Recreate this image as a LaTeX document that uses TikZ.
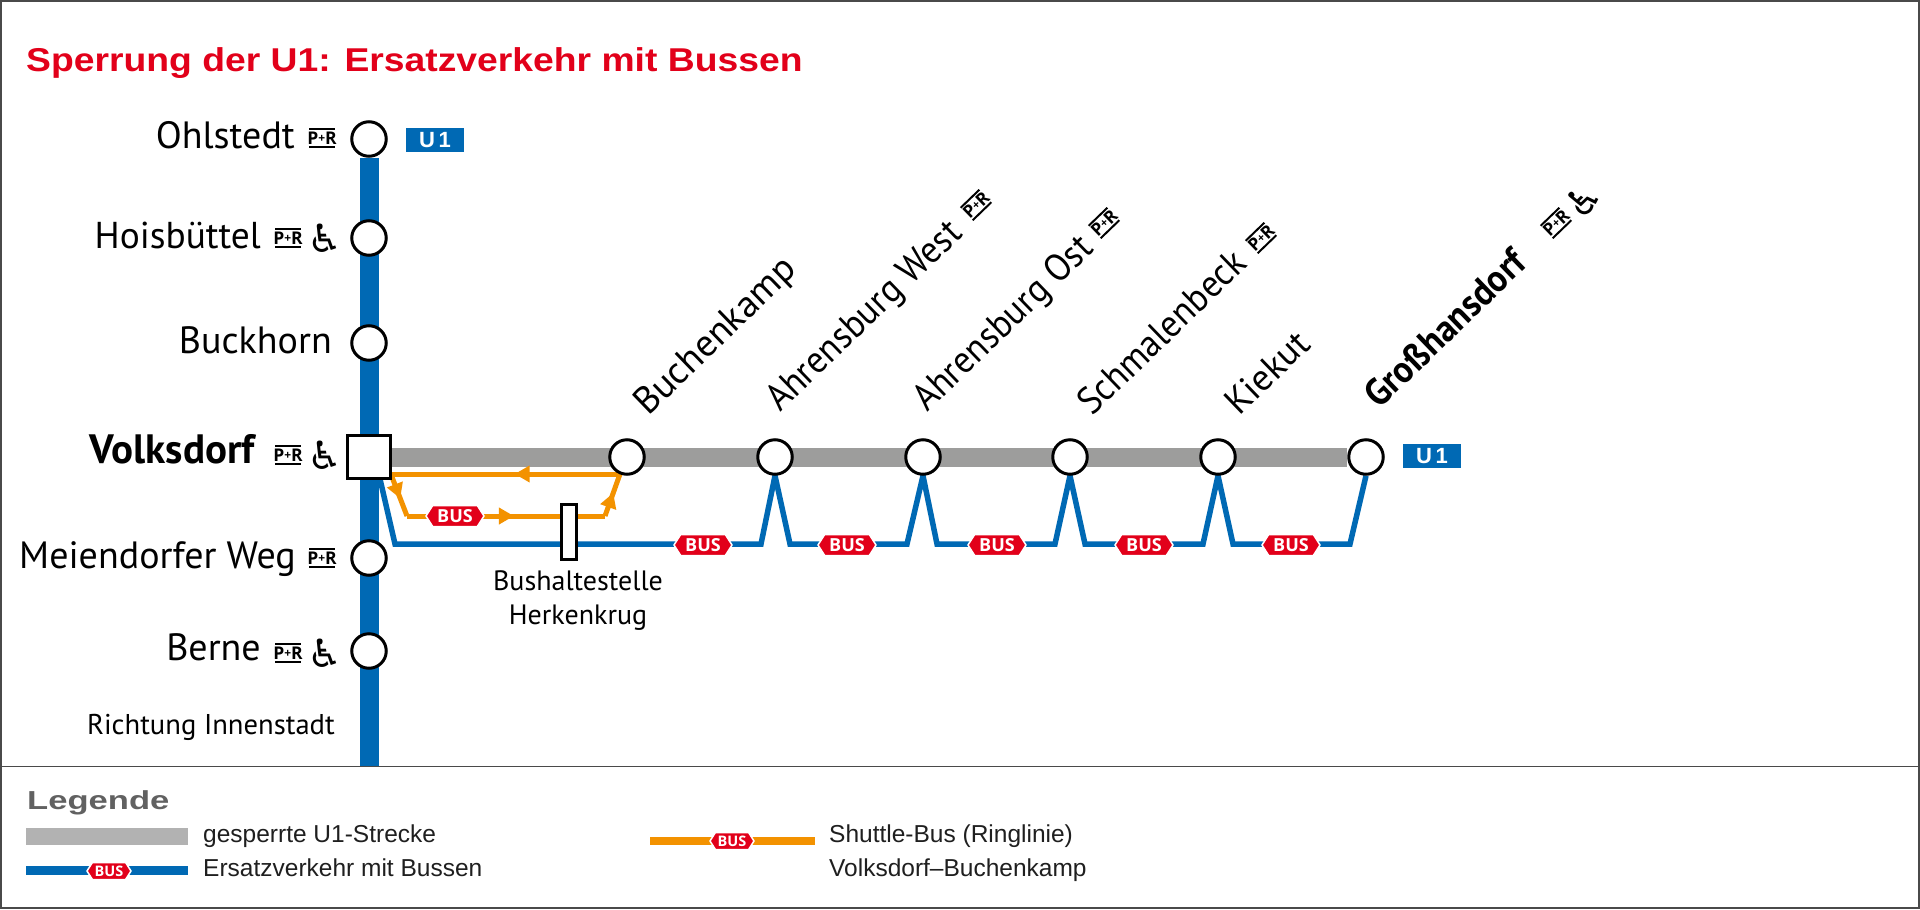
\documentclass[tikz,border=0pt]{standalone}
\usepackage{fontspec}
\setmainfont{PT Sans}
\newfontfamily\titlef[FakeStretch=1.13]{Liberation Sans}
\newfontfamily\legf[FakeStretch=1.33]{Liberation Sans}
\newfontfamily\helv{Liberation Sans}
\newfontfamily\dejav{DejaVu Sans}
\newfontfamily\busf{Open Sans}
\newfontfamily\anglef[FakeStretch=0.93]{PT Sans}
\usetikzlibrary{shapes.symbols,arrows.meta,decorations.markings,backgrounds}
\definecolor{ublue}{HTML}{0069B4}
\definecolor{ugray}{HTML}{9D9D9C}
\definecolor{lgray}{HTML}{B2B2B2}
\definecolor{sorange}{HTML}{F39200}
\definecolor{bred}{HTML}{E2001A}
\definecolor{framec}{HTML}{4A4A4A}
\newcommand{\PRsym}{\vbox{\offinterlineskip\hrule height 2pt width 26pt\kern1.4pt\hbox to 26pt{\hss\busf\bfseries\fontsize{17.5}{17.5}\selectfont P\raisebox{1.5pt}{\fontsize{12}{12}\selectfont +}R\hss}\kern1.4pt\hrule height 2pt width 26pt}}
\newcommand{\WCsym}{{\dejav\fontsize{39}{39}\selectfont ♿}}
\tikzset{
  station/.style={circle,draw=black,fill=white,line width=3pt,minimum size=34.5pt,inner sep=0pt},
  hub/.style={rectangle,draw=black,fill=white,line width=3pt,minimum size=43pt,inner sep=0pt},
  stopbar/.style={rectangle,draw=black,fill=white,line width=3pt,minimum width=15.5pt,minimum height=55pt,inner sep=0pt},
  stationlabel/.style={inner sep=0pt,anchor=base east,font=\fontsize{38}{38}\selectfont},
  anglelabel/.style={inner sep=0pt,anchor=base west,rotate=44,font=\anglef\fontsize{38}{38}\selectfont},
  sym/.style={inner sep=0pt,anchor=center},
  busbadge/.style={signal,signal to=east and west,signal pointer angle=115,draw=white,line width=1.5pt,fill=bred,text=white,inner sep=0pt,minimum width=58pt,minimum height=21pt,font=\busf\bfseries\fontsize{18}{18}\selectfont},
  smallbadge/.style={busbadge,minimum width=44pt,minimum height=17pt,font=\busf\bfseries\fontsize{14.5}{14.5}\selectfont},
  ulabel/.style={rectangle,fill=ublue,text=white,inner sep=0pt,minimum width=58pt,minimum height=24pt,font=\helv\bfseries\fontsize{22}{22}\selectfont},
  closed/.style={draw=ugray,line width=19pt},
  uline/.style={draw=ublue,line width=19pt},
  busline/.style={draw=ublue,line width=5.5pt,miter limit=10},
  shuttle/.style={draw=sorange,line width=5pt},
  midarrow/.style={postaction={decorate,decoration={markings,mark=at position #1 with {\arrow{Triangle[length=15pt,width=16pt,fill=sorange,color=sorange]}}}}},
  legtext/.style={inner sep=0pt,anchor=base west,font=\helv\fontsize{24.5}{24.5}\selectfont,text=black!88},
}
\begin{document}
\begin{tikzpicture}[x=1pt,y=-1pt]
\useasboundingbox (0,0) rectangle (1920,910);
% stations on the vertical line
\node[station] (ohl) at (369,139) {};
\node[station] (hoi) at (369,238) {};
\node[station] (buc) at (369,343) {};
\node[hub] (vol) at (369,457) {};
\node[station] (mei) at (369,558) {};
\node[station] (ber) at (369,651) {};
\coordinate (lineend) at (369,766);
% stations on the horizontal line
\node[station] (s1) at (627,457) {};
\node[station] (s2) at (775,457) {};
\node[station] (s3) at (923,457) {};
\node[station] (s4) at (1070,457) {};
\node[station] (s5) at (1218,457) {};
\node[station] (s6) at (1366,457) {};
% title
\node[inner sep=0pt,anchor=base west,text=bred,font=\titlef\bfseries\fontsize{33}{33}\selectfont] (title) at (26,71) {Sperrung der U1: Ersatzverkehr mit Bussen};
% labels
\node[stationlabel] (lohl) at (295,148) {Ohlstedt};
\node[sym] (prohl) at (322,138) {\PRsym};
\node[stationlabel,font=\fontsize{37.4}{37.4}\selectfont] (lhoi) at (261,248) {Hoisbüttel};
\node[sym] (prhoi) at (288,238) {\PRsym};
\node[sym] (whoi) at (325,238) {\WCsym};
\node[stationlabel] (lbuc) at (332,353) {Buckhorn};
\node[stationlabel,font=\bfseries\fontsize{41}{41}\selectfont] (lvol) at (255,463) {Volksdorf};
\node[sym] (prvol) at (288,455) {\PRsym};
\node[sym] (wvol) at (325,455) {\WCsym};
\node[stationlabel] (lmei) at (296,568) {Meiendorfer Weg};
\node[sym] (prmei) at (322,558) {\PRsym};
\node[stationlabel] (lber) at (261,660) {Berne};
\node[sym] (prber) at (288,653) {\PRsym};
\node[sym] (wber) at (325,653) {\WCsym};
\node[inner sep=0pt,anchor=base east,font=\fontsize{28.6}{28.6}\selectfont] (richt) at (335,734) {Richtung Innenstadt};
\node[ulabel] (u1a) at (435,140) {U\,1};
\node[ulabel] (u1b) at (1432,456) {U\,1};
% angled labels
\node[anglelabel,font=\fontsize{38}{38}\selectfont] (l1) at (648,417) {Buchenkamp};
\node[anglelabel] (l2) at (780,413) {Ahrensburg West};
\node[rotate=44,sym] (pr2) at (976,205) {\PRsym};
\node[anglelabel] (l3) at (927,413) {Ahrensburg Ost};
\node[rotate=44,sym] (pr3) at (1104,223) {\PRsym};
\node[anglelabel] (l4) at (1092,417) {Schmalenbeck};
\node[rotate=44,sym] (pr4) at (1261,238) {\PRsym};
\node[anglelabel,font=\fontsize{37}{37}\selectfont] (l5) at (1239,417) {Kiekut};
\node[anglelabel] (l6) at (1379,410) {\bfseries Großhansdorf};
\node[rotate=44,sym] (pr6) at (1556,223) {\PRsym};
\node[rotate=44,sym] (w6) at (1583,200) {\WCsym};
% shuttle stop
\node[stopbar] (stop) at (569,532) {};
\node[inner sep=0pt,align=center,font=\fontsize{28}{34}\selectfont,anchor=north] (stoplabel) at (578,570) {Bushaltestelle\\Herkenkrug};
% badges
\node[busbadge] (bo) at (455,516) {BUS};
\node[busbadge] (b1) at (703,545) {BUS};
\node[busbadge] (b2) at (847,545) {BUS};
\node[busbadge] (b3) at (997,545) {BUS};
\node[busbadge] (b4) at (1144,545) {BUS};
\node[busbadge] (b5) at (1291,545) {BUS};
% bend points
\coordinate (va) at (380,479);
\coordinate (vb) at (395,544);
\coordinate (a2) at (761,544);
\coordinate (b2r) at (790,544);
\coordinate (a3) at (907,544);
\coordinate (b3r) at (937,544);
\coordinate (a4) at (1055,544);
\coordinate (b4r) at (1085,544);
\coordinate (a5) at (1203,544);
\coordinate (b5r) at (1233,544);
\coordinate (a6) at (1350,544);
\coordinate (oa) at (392,477);
\coordinate (ob) at (407,516);
\coordinate (oc) at (605,516);
\coordinate (od) at (620,474);
\coordinate (oe) at (391,474);
% legend
\node[inner sep=0pt,anchor=base west,text=black!62,font=\legf\bfseries\fontsize{26}{26}\selectfont] (leghead) at (27,809) {Legende};
\coordinate (g1) at (26,836.5);
\coordinate (g2) at (188,836.5);
\coordinate (bl1) at (26,870.5);
\coordinate (bl2) at (188,870.5);
\coordinate (ol1) at (650,841);
\coordinate (ol2) at (815,841);
\node[smallbadge] (lb1) at (109,871) {BUS};
\node[smallbadge] (lb2) at (732,841) {BUS};
\node[legtext] (t1) at (203,842) {gesperrte U1-Strecke};
\node[legtext] (t2) at (203,876) {Ersatzverkehr mit Bussen};
\node[legtext] (t3) at (829,842) {Shuttle-Bus (Ringlinie)};
\node[legtext] (t4) at (829,876) {Volksdorf–Buchenkamp};
\begin{scope}[on background layer]
  \fill[white] (0,0) rectangle (1920,910);
  \draw[framec,line width=1.5pt] (1,1) rectangle (1919,908);
  \draw[closed] (vol) -- (s6);
  \draw[uline] (ohl) -- (lineend);
  \draw[busline] (va) -- (vb) -- (a2) -- (s2.south) -- (b2r) -- (a3) -- (s3.south) -- (b3r) -- (a4) -- (s4.south) -- (b4r) -- (a5) -- (s5.south) -- (b5r) -- (a6) -- (s6.south);
  \draw[shuttle,midarrow=0.55] (oa) -- (ob);
  \draw[shuttle,midarrow=0.54] (ob) -- (oc);
  \draw[shuttle,midarrow=0.55] (oc) -- (od);
  \draw[shuttle,midarrow=0.46] (od) -- (oe);
  \draw[lgray,line width=17pt] (g1) -- (g2);
  \draw[ublue,line width=9pt] (bl1) -- (bl2);
  \draw[sorange,line width=8pt] (ol1) -- (ol2);
  \draw[framec,line width=1.5pt] (0,766.5) -- (1920,766.5);
\end{scope}
\end{tikzpicture}
\end{document}
